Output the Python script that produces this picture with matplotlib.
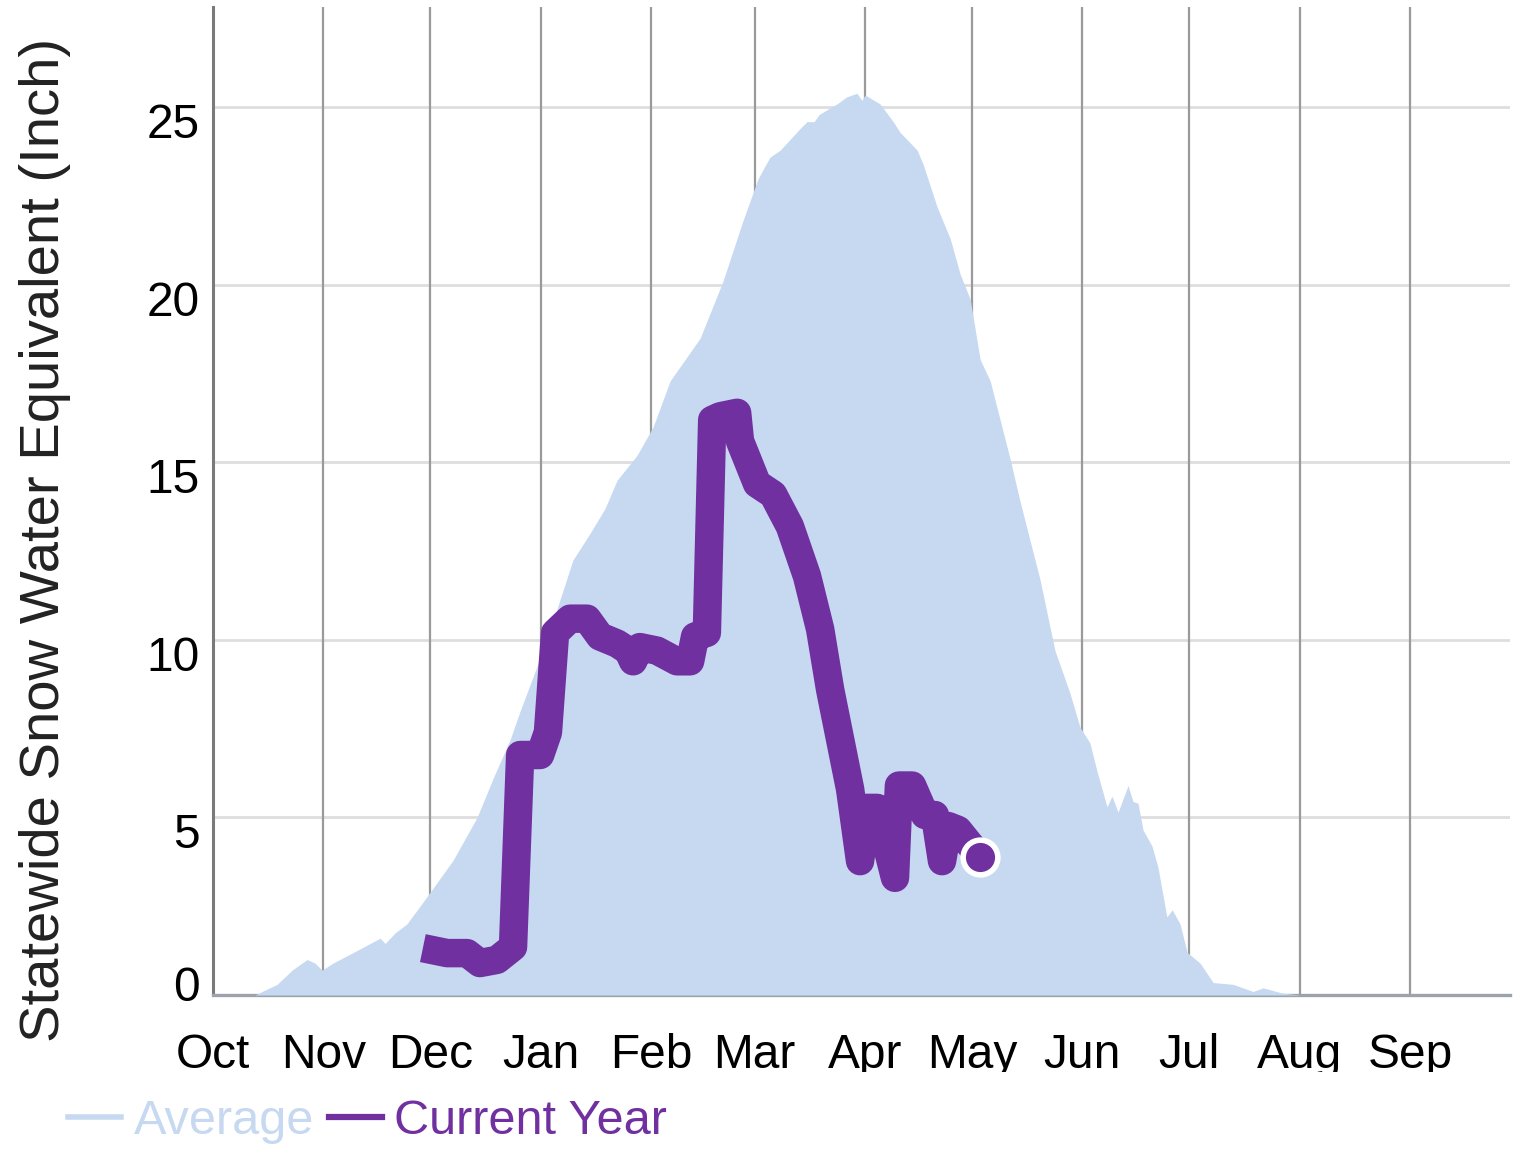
import matplotlib
matplotlib.use("Agg")
from matplotlib import pyplot as plt
from matplotlib.lines import Line2D
from matplotlib.transforms import Bbox, TransformedBbox

# day of water year (0 = Oct 1), snow water equivalent in inches
avg_day = [0, 11.8, 13.8, 18.0, 22.2, 26.4, 28.6, 30.6, 33.7, 41.3, 46.9, 48.3, 51.1,
           54.4, 58.1, 61.7, 67.4, 74.1, 78.6, 83.4, 86.2, 93.7, 101.0, 105.8, 110.0,
           113.4, 119.0, 123.5, 128.3, 136.7, 143.1, 148.7, 153.0, 156.3, 159.2, 164.7,
           166.7, 168.7, 170.1, 175.1, 177.9, 180.7, 182.1, 183.0, 187.2, 190.9, 192.8,
           197.6, 199.3, 203.2, 206.9, 209.7, 212.5, 215.3, 218.1, 220.9, 223.7, 226.5,
           229.3, 232.1, 236.3, 240.5, 243.3, 246.1, 248.1, 250.9, 252.3, 254.0, 256.8,
           258.2, 259.6, 261.0, 263.5, 265.2, 267.7, 269.2, 271.4, 273.4, 277.0, 280.7,
           286.3, 291.9, 294.7, 300.3, 305.1, 364]
avg_swe = [0, 0, 0.1, 0.3, 0.7, 1.0, 0.9, 0.7, 0.9, 1.3, 1.6, 1.45, 1.75,
           2.0, 2.5, 3.0, 3.8, 5.0, 6.1, 7.2, 8.0, 10.0, 12.25, 13.0, 13.7,
           14.5, 15.2, 16.0, 17.3, 18.5, 20.1, 21.8, 23.0, 23.6, 23.8, 24.4,
           24.6, 24.6, 24.8, 25.1, 25.3, 25.4, 25.2, 25.35, 25.1, 24.6, 24.3,
           23.8, 23.4, 22.2, 21.3, 20.3, 19.6, 17.9, 17.3, 16.2, 15.1, 13.9,
           12.8, 11.7, 9.7, 8.5, 7.55, 7.1, 6.3, 5.3, 5.6, 5.15, 5.9,
           5.45, 5.4, 4.65, 4.2, 3.6, 2.2, 2.4, 2.0, 1.2, 0.9, 0.35,
           0.3, 0.1, 0.2, 0.05, 0, 0]

cur_day = [58.9, 65.7, 71.3, 74.9, 79.7, 84.2, 86.2, 91.8, 94.0, 96.0, 100.2, 105.0,
           108.6, 113.4, 116.5, 117.9, 119.8, 124.6, 130.2, 133.9, 135.3, 138.6, 140.1,
           142.3, 147.1, 147.9, 152.7, 157.2, 161.9, 166.7, 170.4, 173.2, 176.0, 178.8,
           181.6, 183.3, 186.4, 191.4, 192.5, 196.2, 199.8, 202.6, 204.6, 206.3, 209.1,
           211.9, 215.3]
cur_swe = [1.32, 1.18, 1.18, 0.9, 0.99, 1.35, 6.76, 6.76, 7.4, 10.2, 10.6, 10.6,
           10.1, 9.9, 9.7, 9.4, 9.8, 9.7, 9.4, 9.4, 10.1, 10.2, 16.2,
           16.3, 16.4, 15.6, 14.4, 14.1, 13.2, 11.8, 10.3, 8.6, 7.2, 5.8,
           3.77, 5.27, 5.27, 3.3, 5.9, 5.9, 5.07, 5.07, 3.77, 4.76, 4.65,
           4.3, 3.89]

month_start = [0, 31, 61, 92, 123, 152, 183, 213, 244, 274, 305, 336]
month_names = ["Oct", "Nov", "Dec", "Jan", "Feb", "Mar", "Apr", "May", "Jun", "Jul", "Aug", "Sep"]
y_ticks = [0, 5, 10, 15, 20, 25]

avg_color = "#C6D9F1"
cur_color = "#7030A0"

plt.rcParams["font.family"] = ["Liberation Sans", "DejaVu Sans"]

fig = plt.figure(figsize=(15.19, 11.53), dpi=100)
ax = fig.add_axes([213 / 1519, 1 - 995 / 1153, 1297 / 1519, 988 / 1153])

ax.set_xlim(0, 364)
ax.set_ylim(0, 27.83)

for d in month_start[1:]:
    ax.axvline(d, color="#9a9a9a", lw=1.6, zorder=1)
for v in y_ticks[1:]:
    ax.axhline(v, color="#dedede", lw=2, zorder=0.9)

ax.fill_between(avg_day, avg_swe, 0, color=avg_color, lw=0, zorder=3)
ax.plot(cur_day, cur_swe, color=cur_color, lw=20.5, solid_joinstyle="round",
        solid_capstyle="butt", zorder=4)
ax.plot(cur_day[-1:], cur_swe[-1:], "o", color=cur_color, ms=25, mec="white",
        mew=4, zorder=5)

for s in ["top", "right"]:
    ax.spines[s].set_visible(False)
ax.spines["left"].set_color("#7a7a7a")
ax.spines["left"].set_linewidth(2.2)
ax.spines["bottom"].set_color("#9da3ad")
ax.spines["bottom"].set_linewidth(2.4)
for s in ["left", "bottom"]:
    ax.spines[s].set_zorder(2)

ax.set_xticks(month_start)
ax.set_xticklabels(month_names)
ax.tick_params(axis="x", length=0, pad=27, labelsize=34.5, colors="black")

# labels are cut off at the bottom in the original
clip = TransformedBbox(Bbox([[0, 81 / 1153], [1, 1]]), fig.transFigure)
for lab in ax.get_xticklabels():
    lab.set_clip_box(clip)
    lab.set_clip_on(True)

# y labels sit a little below their gridlines in the original ("0" a little above)
ax.set_yticks(y_ticks)
ax.set_yticklabels([])
ax.tick_params(axis="y", length=0)
for v in y_ticks:
    dy = 5 if v == 0 else -13
    ax.annotate(str(v), xy=(0, v), xycoords=ax.get_yaxis_transform(),
                xytext=(-9.5, dy), textcoords="offset points",
                ha="right", va="center", fontsize=34.5)

fig.text(45 / 1519, 1 - 540 / 1153, "Statewide Snow Water Equivalent (Inch)",
         rotation=90, ha="center", va="center", fontsize=40.5, color="#222222")

handles = [Line2D([], [], color=avg_color, lw=4),
           Line2D([], [], color=cur_color, lw=4.5)]
fig.legend(handles, ["Average", "Current Year"], loc="center left",
           bbox_to_anchor=(68 / 1519, 31 / 1153), ncol=2, frameon=False,
           fontsize=35, handlelength=1.1, handletextpad=0.25, columnspacing=0.3,
           borderaxespad=0, borderpad=0, labelcolor=[avg_color, cur_color])

fig.savefig("out.png", dpi=100)
